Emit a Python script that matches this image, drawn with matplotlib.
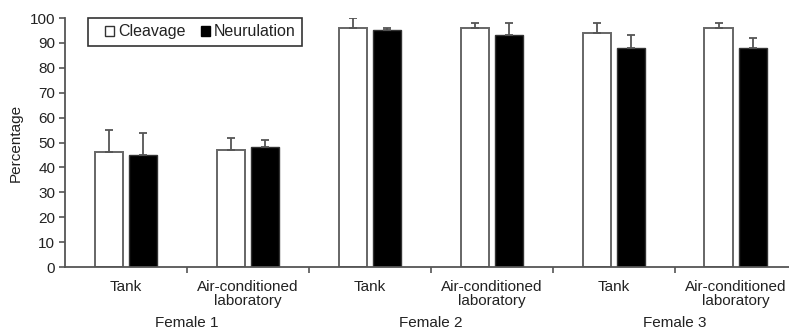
import numpy as np
import matplotlib.pyplot as plt
from matplotlib.patches import Patch, Rectangle

plt.rcParams['font.family'] = ['Liberation Sans', 'DejaVu Sans']

conditions = ['Tank', 'Air-conditioned\nlaboratory'] * 3
females = ['Female 1', 'Female 2', 'Female 3']
cleavage = [46, 47, 96, 96, 94, 96]
cleavage_err = [9, 5, 4, 2, 4, 2]
neurulation = [45, 48, 95, 93, 88, 88]
neurulation_err = [9, 3, 1, 5, 5, 4]

grey = '#555555'
txt = '#222222'

fig = plt.figure(figsize=(7.89, 3.30), dpi=100)
ax = fig.add_axes([0.0824, 0.1909, 0.9277, 0.7545])

x = np.arange(len(conditions))
w = 0.23
off = 0.143
ax.bar(x - off, cleavage, w, color='white', edgecolor='#666666', linewidth=1.4,
       yerr=[np.zeros(6), cleavage_err], error_kw=dict(ecolor=grey, elinewidth=1.3, capsize=3, capthick=1.3))
ax.bar(x + off, neurulation, w, color='black', edgecolor='#333333', linewidth=1.0,
       yerr=[np.zeros(6), neurulation_err], error_kw=dict(ecolor=grey, elinewidth=1.3, capsize=3, capthick=1.3))

ax.set_xlim(-0.5, 5.5)
ax.set_ylim(0, 100)
ax.set_yticks(range(0, 101, 10))
ax.tick_params(axis='y', direction='out', length=4, width=1.2, color=grey, labelsize=11, labelcolor=txt, pad=3)
ax.set_xticks(x)
ax.set_xticklabels(conditions, fontsize=11, color=txt, linespacing=1.0)
ax.tick_params(axis='x', which='major', length=0, pad=9)
ax.set_xticks(np.arange(0.5, 5, 1), minor=True)
ax.tick_params(axis='x', which='minor', direction='out', length=4, width=1.2, color=grey)

for s in ['top', 'right']:
    ax.spines[s].set_visible(False)
for s in ['left', 'bottom']:
    ax.spines[s].set_color(grey)
    ax.spines[s].set_linewidth(1.3)

ax.set_ylabel('Percentage', fontsize=11, color=txt, labelpad=5)

for i, f in enumerate(females):
    ax.text(2 * i + 0.5, -0.225, f, transform=ax.get_xaxis_transform(),
            ha='center', va='center', fontsize=11, color=txt)

# legend box drawn by hand (wider side padding than the legend's own)
ax.add_patch(Rectangle((0.0314, 0.8876), 0.2924, 0.1124, transform=ax.transAxes,
                       facecolor='white', edgecolor='#333333', linewidth=1.2, clip_on=False, zorder=5))
handles = [Patch(facecolor='white', edgecolor='#333333', linewidth=1.0),
           Patch(facecolor='black', edgecolor='black')]
leg = ax.legend(handles, ['Cleavage', 'Neurulation'], ncol=2, loc='center left',
                bbox_to_anchor=(0.0546, 0.944), borderaxespad=0, frameon=False,
                handlelength=0.55, handleheight=0.55, handletextpad=0.25, columnspacing=1.0,
                fontsize=11.5, borderpad=0)
leg.set_zorder(6)
for t in leg.get_texts():
    t.set_color(txt)

fig.savefig('out.png', dpi=100)
